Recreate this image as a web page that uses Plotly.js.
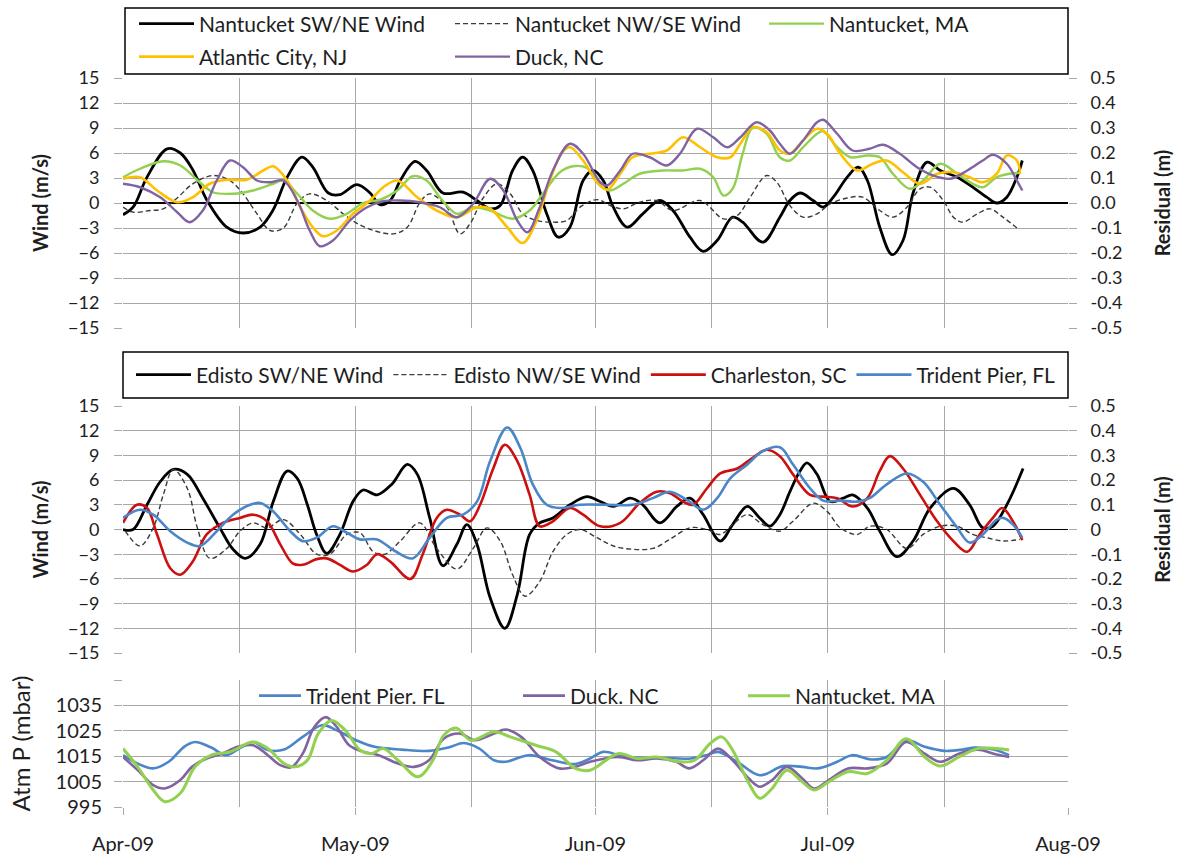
<!DOCTYPE html>
<html><head><meta charset="utf-8">
<script src="https://cdn.plot.ly/plotly-3.0.1.min.js"></script>
<style>html,body{margin:0;padding:0;background:#fff}#chart{width:1180px;height:857px}</style>
</head><body><div id="chart"></div>
<script>
// ---------- DATA (x = days after 1 Apr 2009) ----------
// Top panel: Nantucket wind (m/s) and residuals (m)
const nanSWNE_d = [0,1.3,3.1,5.7,7.4,9.0,10.8,13.4,15.5,17.7,19.4,21.2,23.1,24.5,26.5,28.0,30.2,31.9,33.2,34.5,35.8,37.7,39.2,41.3,43.9,45.7,47.4,48.7,50.3,51.6,52.9,54.7,56.2,57.7,59.4,60.7,62.0,63.3,65.1,67.1,69.3,71.0,73.2,74.9,76.7,78.7,80.0,82.6,84.8,86.1,87.4,89.1,90.4,91.7,93.5,94.9,96.1,97.7,99.3,100.7,102.0,103.8,105.5,107.7,109.7,111.5,112.8,114.1,115.4,116.1];
const nanSWNE_v = [-1.4,-0.5,3.1,6.5,6.0,4.0,0.4,-2.9,-3.6,-2.9,-0.8,3.1,5.5,4.3,1.2,1.0,2.2,1.2,-0.2,0.3,2.7,5.0,3.9,1.2,1.3,0.3,-0.7,-0.3,3.9,5.5,3.9,-1.3,-4.1,-2.9,2.7,3.9,2.7,-0.5,-2.9,-1.3,0.3,-0.9,-4.1,-5.8,-4.5,-1.7,-2.3,-4.7,-1.7,0.3,1.2,0.3,-0.5,0.7,3.1,4.3,2.7,-2.9,-6.2,-4.5,1.2,4.9,3.9,3.1,1.9,0.7,0,0.7,3.1,5.1];
const nanNWSE_d = [0,1.3,3.5,5.2,7.0,9.0,11.6,13.8,15.5,17.3,19.0,20.7,22.5,24.1,26.3,28.7,31.2,34.9,36.7,38.3,39.6,41.8,43.5,44.8,46.5,48.3,50.0,51.6,53.4,55.5,57.3,59.0,61.2,62.9,64.6,66.7,68.9,71.0,74.5,77.5,79.3,80.9,83.1,84.4,86.1,87.8,89.6,91.3,93.5,95.5,97.7,99.4,101.2,102.9,104.2,105.9,107.2,108.4,110.3,111.9,113.6,115.4];
const nanNWSE_v = [-0.5,-1.1,-0.9,-0.7,0.6,2.3,3.3,2.7,1.1,-1.3,-3.3,-3.0,0,1.1,0.3,-1.5,-2.9,-3.7,-2.9,0,1.1,-0.5,-3.7,-2.5,0.6,2.3,1.1,-1.3,-2.1,-2.3,-2.1,-0.5,0.4,-0.3,-0.7,0.1,0.3,-0.9,0.3,-1.9,-1.5,0.6,3.3,2.5,-0.3,-1.7,-1.3,-0.1,0.6,0.7,-0.9,-1.7,-0.5,1.7,1.9,0.3,-1.7,-2.3,-1.3,-0.7,-1.7,-3.0];
const nantucket_d = [0,2.2,5.2,7.4,9.9,11.6,14.2,16.8,19.4,20.7,22.5,24.5,26.7,28.9,31.0,33.2,35.4,37.4,39.2,40.9,43.1,45.2,47.4,50.3,52.5,54.2,56.4,58.1,59.9,61.6,62.9,64.6,66.7,69.7,72.3,74.5,76.2,77.5,78.7,80.0,81.3,83.1,84.8,86.1,87.8,89.6,90.4,92.2,93.9,96.1,97.7,99.4,101.6,103.3,105.5,107.7,109.7,111.0,112.8,114.5,115.8];
const nantucket_r = [0.103,0.137,0.167,0.15,0.083,0.043,0.037,0.05,0.077,0.09,0.037,-0.03,-0.063,-0.043,0,0.013,0.05,0.107,0.09,0.023,-0.043,-0.017,-0.03,-0.063,-0.03,0.037,0.123,0.147,0.14,0.07,0.05,0.077,0.117,0.13,0.13,0.137,0.103,0.03,0.057,0.197,0.3,0.277,0.183,0.17,0.223,0.277,0.287,0.223,0.183,0.19,0.183,0.117,0.057,0.09,0.157,0.117,0.077,0.063,0.103,0.117,0.12];
const atlantic_d = [0,2.2,4.4,7.0,9.0,11.2,13.4,16.0,18.1,19.4,21.2,22.9,24.5,25.8,27.6,29.7,31.9,33.6,35.4,38.0,40.5,43.1,45.7,47.4,49.6,51.6,53.4,55.1,56.7,57.7,59.4,61.2,62.5,64.2,65.8,68.0,70.2,72.3,74.5,76.7,78.4,79.7,81.3,83.1,84.8,86.1,87.8,89.6,90.9,92.6,94.8,96.8,98.6,100.7,102.9,105.1,107.2,109.3,111.0,112.8,114.1,115.4,115.8];
const atlantic_r = [0.097,0.103,0.05,0.003,0.023,0.077,0.093,0.093,0.13,0.147,0.09,-0.017,-0.097,-0.133,-0.11,-0.043,0.01,0.063,0.09,0.023,-0.03,-0.057,-0.017,-0.023,-0.097,-0.16,-0.07,0.09,0.203,0.223,0.17,0.083,0.053,0.117,0.183,0.197,0.21,0.263,0.223,0.183,0.183,0.237,0.303,0.283,0.21,0.197,0.25,0.297,0.277,0.197,0.13,0.157,0.17,0.123,0.077,0.117,0.123,0.103,0.083,0.117,0.19,0.17,0.117];
const duck_d = [0,2.2,4.8,7.0,8.6,10.3,12.1,13.8,15.5,17.3,19.0,20.7,22.5,24.1,25.4,27.1,29.3,31.5,33.6,35.8,38.3,40.9,43.1,45.2,47.4,49.1,50.9,52.2,53.8,55.5,57.7,59.4,61.6,62.5,64.2,65.8,68.0,70.2,71.9,74.1,76.2,78.0,79.7,81.8,83.5,84.8,86.1,87.8,89.6,90.4,92.2,94.2,96.4,98.1,100.3,102.5,104.6,106.8,109.0,111.0,112.3,114.1,115.4,116.1];
const duck_r = [0.077,0.063,0.023,-0.037,-0.077,-0.03,0.09,0.17,0.143,0.09,0.083,0.09,0.01,-0.11,-0.173,-0.15,-0.07,-0.017,0.007,0.01,0.003,-0.017,-0.057,-0.003,0.097,0.05,-0.07,-0.117,-0.017,0.13,0.237,0.197,0.083,0.07,0.13,0.197,0.183,0.15,0.197,0.297,0.263,0.223,0.263,0.323,0.29,0.237,0.197,0.25,0.323,0.333,0.277,0.21,0.217,0.233,0.197,0.143,0.11,0.097,0.13,0.17,0.193,0.157,0.09,0.05];

// Middle panel: Edisto wind (m/s) and residuals (m)
const ediSWNE_d = [0,1.3,3.1,4.8,6.5,8.3,10.3,12.5,14.2,15.8,17.7,19.4,21.2,22.5,23.8,25.0,26.3,28.0,29.7,31.0,32.8,34.7,36.7,38.0,39.6,41.3,43.1,44.4,45.7,47.4,49.3,50.9,52.5,53.8,55.5,57.7,59.9,61.6,63.3,65.5,67.1,69.3,71.5,73.2,74.9,77.1,78.7,80.6,82.2,83.5,84.8,86.1,87.4,88.3,89.6,91.3,93.0,94.2,96.1,97.7,99.9,102.0,104.2,107.2,109.3,111.0,112.3,114.1,116.2];
const ediSWNE_v = [0,0,3.0,5.8,7.3,6.7,3.8,0.2,-2.4,-3.5,-1.8,3.4,7.1,6.2,3.0,-0.6,-2.9,-0.6,3.4,4.8,4.2,5.5,7.9,6.7,1.4,-4.4,-1.8,0.6,-1.8,-8.3,-12.0,-7.9,-0.6,0.8,1.4,3.0,4.0,3.4,2.8,3.8,3.0,0.8,2.8,3.8,1.8,-1.4,0.6,2.8,1.4,0.4,1.8,4.6,7.1,8.1,6.7,3.4,3.8,4.2,2.6,-0.2,-3.3,-1.4,2.6,5.0,3.0,0.2,0.4,3.0,7.4];
const ediNWSE_d = [0.3,2.2,3.9,5.2,6.5,8.3,9.6,11.2,13.4,15.1,16.8,18.6,20.7,22.9,25.0,26.7,28.9,30.6,32.3,33.8,35.8,38.3,40.5,43.1,45.2,47.0,48.7,50.3,51.9,53.8,55.5,57.3,59.0,61.2,63.3,65.8,68.4,70.6,73.2,75.4,77.1,78.7,80.6,82.6,84.8,86.5,89.1,90.9,92.6,94.8,96.4,98.6,101.2,103.3,105.5,107.7,109.7,111.5,113.6,115.8];
const ediNWSE_v = [-0.2,-2.0,0.2,4.2,7.3,5.0,0.2,-3.5,-2.3,-0.2,0.8,0.2,1.2,-0.6,-3.0,-3.0,-0.6,-0.4,-2.7,-3.0,-1.4,0.8,-2.3,-4.8,-2.3,0.2,-1.4,-5.5,-8.1,-6.3,-2.7,-0.6,0,-1.0,-2.0,-2.4,-2.3,-1.2,0.2,0,-0.6,0.6,1.8,0.6,-0.2,1.0,3.2,2.2,0.2,-0.6,0.4,0,-2.3,-0.6,0.4,0.4,-0.6,-1.0,-1.4,-1.2];
const charleston_d = [0,1.8,3.1,4.4,6.1,7.4,9.0,10.8,12.9,15.1,16.8,18.6,20.3,21.9,23.2,25.0,26.3,28.0,29.7,31.5,32.8,34.5,37.1,38.7,40.5,41.8,43.5,44.8,46.1,47.8,49.3,50.9,52.5,53.8,55.5,57.7,59.4,61.6,64.2,66.7,68.9,70.6,72.3,73.6,75.4,77.1,79.3,81.3,83.1,84.8,86.5,88.7,90.4,92.2,94.2,96.1,97.7,99.0,100.7,102.9,105.1,107.2,109.0,110.6,112.3,113.5,114.9,116.1];
const charleston_r = [0.027,0.1,0.087,-0.02,-0.157,-0.183,-0.13,-0.02,0.027,0.047,0.06,0.033,-0.06,-0.137,-0.143,-0.12,-0.117,-0.143,-0.17,-0.143,-0.1,-0.13,-0.2,-0.1,0.047,0.08,0.06,0.033,0.1,0.247,0.343,0.277,0.14,0.013,0.033,0.087,0.06,0.013,0.027,0.107,0.153,0.147,0.113,0.1,0.167,0.227,0.247,0.29,0.323,0.297,0.223,0.14,0.133,0.127,0.093,0.127,0.237,0.297,0.247,0.14,0.033,-0.047,-0.09,-0.02,0.047,0.087,0.033,-0.043];
const trident_d = [0,2.2,3.9,6.1,8.3,9.9,12.1,14.2,16.4,17.7,19.4,21.6,23.2,25.0,27.1,28.9,30.6,32.8,35.1,37.4,39.6,41.8,43.9,45.7,47.4,49.6,51.3,52.9,54.7,56.4,59.0,62.5,65.8,68.4,70.6,72.8,74.9,76.7,78.4,80.6,82.6,84.8,86.5,88.7,90.4,92.6,94.8,96.4,98.6,101.2,103.3,105.5,107.7,109.3,111.0,112.8,113.6,114.9,116.1];
const trident_r = [0.047,0.08,0.06,-0.007,-0.053,-0.067,-0.007,0.06,0.1,0.107,0.073,-0.007,-0.047,-0.033,0.013,-0.013,-0.04,-0.04,-0.087,-0.117,-0.033,0.047,0.06,0.113,0.277,0.413,0.33,0.183,0.1,0.087,0.1,0.1,0.1,0.127,0.153,0.12,0.08,0.127,0.207,0.263,0.317,0.333,0.263,0.167,0.117,0.117,0.113,0.127,0.183,0.227,0.193,0.1,0.007,-0.053,-0.02,0.04,0.047,0.02,-0.033];

// Bottom panel: atmospheric pressure (mbar)
const pTrident_d = [0,1.9,3.9,5.9,7.9,9.3,11.4,13.3,15.2,16.8,18.7,20.8,23.2,25.7,27.6,30.1,32.5,36.0,39.5,42.0,44.0,46.0,47.9,49.4,52.4,55.4,58.4,60.3,62.0,64.9,68.9,73.3,75.3,76.8,79.3,82.2,85.2,87.7,89.7,92.2,94.1,96.6,98.6,101.1,103.5,106.0,108.4,110.0,112.4,114.4];
const pTrident_v = [1015.4,1012.1,1010.2,1012.8,1018.7,1020.6,1018.4,1015.4,1018.4,1020.6,1017.4,1017.6,1022.6,1027.2,1025.2,1021.3,1018.7,1017.6,1017.1,1018.4,1020.2,1018.0,1013.4,1012.8,1015.4,1013.4,1011.9,1014.1,1016.7,1014.7,1014.5,1014.1,1015.4,1016.7,1012.8,1007.5,1011.1,1010.8,1010.2,1012.8,1015.4,1013.7,1014.7,1021.3,1018.7,1017.1,1017.6,1018.4,1017.6,1015.4];
const pDuck_d = [0,1.9,3.9,5.4,7.4,8.9,10.8,12.8,14.8,16.8,18.7,20.3,21.7,23.2,24.7,26.2,27.6,29.2,31.1,33.0,35.5,37.6,39.5,41.4,43.5,45.4,47.9,49.4,51.4,53.8,56.3,58.4,60.3,63.9,66.4,68.9,71.4,73.1,74.9,76.8,78.7,80.8,82.2,83.8,85.7,87.7,89.2,91.1,93.6,96.1,98.6,101.1,103.5,105.5,107.9,110.4,112.4,114.4];
const pDuck_v = [1014.7,1009.5,1003.6,1002.3,1005.6,1010.8,1014.1,1016.0,1018.7,1019.3,1015.4,1011.5,1010.6,1016.0,1026.5,1030.4,1026.5,1019.3,1016.7,1015.4,1012.1,1010.8,1013.4,1021.9,1023.9,1021.3,1023.9,1025.5,1022.6,1014.7,1010.2,1010.8,1012.8,1014.7,1013.4,1014.1,1012.8,1010.2,1013.4,1018.0,1013.4,1006.2,1003.0,1005.6,1010.8,1006.2,1002.3,1005.6,1010.2,1010.2,1012.1,1020.6,1016.0,1012.8,1016.0,1017.6,1016.0,1014.7];
const pNantucket_d = [0,1.9,3.9,5.4,7.4,9.3,11.4,13.8,16.8,18.7,20.8,22.2,23.8,25.2,26.9,28.7,30.6,32.1,33.6,35.5,38.1,40.0,41.4,43.0,44.9,47.9,50.0,53.3,55.9,58.4,60.3,63.9,66.4,68.9,71.9,73.8,75.8,77.3,78.7,80.8,82.2,83.8,85.7,87.7,89.2,91.1,93.6,96.1,98.6,101.1,103.5,105.5,107.9,110.4,112.8,114.4];
const pNantucket_v = [1018.0,1010.8,1001.7,997.1,1000.4,1010.8,1015.4,1016.7,1020.6,1018.0,1012.1,1010.8,1013.4,1023.9,1029.1,1025.2,1017.4,1016.0,1018.0,1013.4,1006.9,1013.4,1023.2,1026.1,1021.3,1024.6,1022.6,1019.3,1016.7,1010.2,1009.5,1016.0,1014.1,1014.7,1012.8,1013.4,1020.0,1022.6,1017.4,1004.3,998.4,1002.3,1009.5,1004.9,1001.7,1004.9,1008.9,1008.2,1013.4,1021.9,1014.7,1011.1,1014.7,1018.0,1018.0,1017.4];

// Axis ticks
const monthTicks = ['2009-04-01','2009-05-01','2009-06-01','2009-07-01','2009-08-01'];
const monthLabels = ['Apr-09','May-09','Jun-09','Jul-09','Aug-09'];
const midTicks = ['2009-04-16','2009-05-16','2009-06-16','2009-07-16'];
const windTicks = [-15,-12,-9,-6,-3,0,3,6,9,12,15];
const residTicks = [-0.5,-0.4,-0.3,-0.2,-0.1,0,0.1,0.2,0.3,0.4,0.5];
const residLabelsTop = ['-0.5','-0.4','-0.3','-0.2','-0.1','0.0','0.1','0.2','0.3','0.4','0.5'];
const residLabelsMid = ['-0.5','-0.4','-0.3','-0.2','-0.1','0','0.1','0.2','0.3','0.4','0.5'];
const presTicks = [995,1005,1015,1025,1035,1045];
const presLabels = ['995','1005','1015','1025','1035',''];

// ---------- BUILD ----------
const START = Date.UTC(2009,3,1);
const toDates = days => days.map(d => new Date(START + d*86400000).toISOString().slice(0,19));
const allGrid = monthTicks.concat(midTicks).sort();

const GRID = '#a8a8a8';
const FONT = 'Lato, "Open Sans", sans-serif';
const TXT = '#1e1e1e';
const BLUE='#4a86c8', PURPLE='#8064a2', GREEN='#92d050', YELLOW='#ffc000', RED='#cc1010';
const dashLine = {color:'#3a3a3a', width:1.4, dash:'5px,3px'};

function tr(d, v, name, xa, ya, line, legend){
  return {type:'scatter', mode:'lines', x:toDates(d), y:v, name:name, xaxis:xa, yaxis:ya,
          line:Object.assign({shape:'spline', smoothing:1}, line), legend:legend, hoverinfo:'skip'};
}

const data = [
  tr(nanSWNE_d, nanSWNE_v, 'Nantucket SW/NE Wind', 'x', 'y', {color:'#000', width:2.8}, 'legend'),
  tr(nanNWSE_d, nanNWSE_v, 'Nantucket NW/SE Wind', 'x', 'y', dashLine, 'legend2'),
  tr(nantucket_d, nantucket_r, 'Nantucket, MA', 'x', 'y2', {color:GREEN, width:2.4}, 'legend3'),
  tr(atlantic_d, atlantic_r, 'Atlantic City, NJ', 'x', 'y2', {color:YELLOW, width:2.6}, 'legend4'),
  tr(duck_d, duck_r, 'Duck, NC', 'x', 'y2', {color:PURPLE, width:2.4}, 'legend5'),

  tr(ediSWNE_d, ediSWNE_v, 'Edisto SW/NE Wind', 'x2', 'y3', {color:'#000', width:2.8}, 'legend6'),
  tr(ediNWSE_d, ediNWSE_v, 'Edisto NW/SE Wind', 'x2', 'y3', dashLine, 'legend6'),
  tr(charleston_d, charleston_r, 'Charleston, SC', 'x2', 'y4', {color:RED, width:2.6}, 'legend6'),
  tr(trident_d, trident_r, 'Trident Pier, FL', 'x2', 'y4', {color:BLUE, width:2.6}, 'legend6'),

  tr(pTrident_d, pTrident_v, 'Trident Pier. FL', 'x3', 'y5', {color:BLUE, width:2.6}, 'legend7'),
  tr(pDuck_d, pDuck_v, 'Duck. NC', 'x3', 'y5', {color:PURPLE, width:2.6}, 'legend8'),
  tr(pNantucket_d, pNantucket_v, 'Nantucket. MA', 'x3', 'y5', {color:GREEN, width:3}, 'legend9')
];

const H = 729, W = 945, TOP = 78; // plot frame: columns 123..1068, rows 78..807
const py = p => (807 - p)/H;      // pixel row -> paper fraction
const px = p => (p - 123)/W;      // pixel column -> paper fraction

const tickFont = {family:FONT, size:18, color:TXT};
const titleFont = {family:FONT, size:20, color:TXT, weight:'bold'};

function xAx(anchor, labels){
  const ax = {type:'date', range:['2009-04-01','2009-08-01'], anchor:anchor,
    tickmode:'array', tickvals: labels ? monthTicks : allGrid,
    showgrid:true, gridcolor:GRID, gridwidth:1, zeroline:false, showline:false,
    showticklabels:!!labels, fixedrange:true, tickfont:{family:FONT, size:20, color:TXT}};
  if(labels){
    ax.ticktext = monthLabels; ax.ticks='outside'; ax.ticklen=7; ax.tickcolor=GRID; ax.tickwidth=1;
    ax.ticklabelstandoff = 12;
    ax.minor = {tickmode:'array', tickvals:midTicks, showgrid:true, gridcolor:GRID, gridwidth:1, ticks:''};
  }
  return ax;
}
function windAx(anchor, dom){
  return {domain:dom, anchor:anchor, range:[-15,15], tickmode:'array', tickvals:windTicks,
    showgrid:true, gridcolor:GRID, gridwidth:1, zeroline:true, zerolinecolor:'#000', zerolinewidth:1.6,
    ticks:'outside', ticklen:8, tickcolor:GRID, tickwidth:1, ticklabelstandoff:11,
    tickfont:tickFont, fixedrange:true,
    title:{text:'Wind (m/s)', font:titleFont, standoff:14}};
}
function residAx(anchor, over, labels){
  return {anchor:anchor, overlaying:over, side:'right', range:[-0.5,0.5], tickmode:'array',
    tickvals:residTicks, ticktext:labels, showgrid:false, zeroline:false,
    ticks:'outside', ticklen:8, tickcolor:GRID, tickwidth:1, ticklabelstandoff:10,
    tickfont:tickFont, fixedrange:true,
    title:{text:'Residual (m)', font:titleFont, standoff:34}};
}

const legBase = {orientation:'h', xref:'paper', yref:'paper', xanchor:'left', yanchor:'middle',
  bgcolor:'rgba(0,0,0,0)', borderwidth:0, font:{family:FONT, size:21, color:TXT},
  itemwidth:55, itemclick:false, itemdoubleclick:false};
// legend placed by pixel position (left edge, row centre)
const legAt = (col, row, extra) => Object.assign({}, legBase, {x:px(col), y:py(row)}, extra || {});

const layout = {
  width:1180, height:857,
  margin:{l:123, r:112, t:TOP, b:50, autoexpand:false},
  paper_bgcolor:'#fff', plot_bgcolor:'#fff',
  font:{family:FONT, color:TXT},
  showlegend:true,
  xaxis: xAx('y', false),
  xaxis2: xAx('y3', false),
  xaxis3: xAx('y5', true),
  yaxis: windAx('x', [py(328), 1]),
  yaxis2: residAx('x', 'y', residLabelsTop),
  yaxis3: windAx('x2', [py(653), py(406)]),
  yaxis4: residAx('x2', 'y3', residLabelsMid),
  yaxis5: {domain:[0, py(680)], anchor:'x3', range:[995,1045], tickmode:'array', tickvals:presTicks,
    ticktext:presLabels, showgrid:true, gridcolor:GRID, gridwidth:1, zeroline:false,
    ticks:'outside', ticklen:8, tickcolor:GRID, tickwidth:1, ticklabelstandoff:8,
    tickfont:{family:FONT, size:20, color:TXT}, fixedrange:true,
    title:{text:'Atm P (mbar)', font:{family:FONT, size:24, color:TXT}, standoff:18}},
  legend:  legAt(134, 24),
  legend2: legAt(450, 24),
  legend3: legAt(764, 24),
  legend4: legAt(134, 57),
  legend5: legAt(450, 57),
  legend6: legAt(131, 375),
  legend7: legAt(254, 696, {itemwidth:42}),
  legend8: legAt(518, 696, {itemwidth:42}),
  legend9: legAt(743, 696, {itemwidth:42}),
  shapes: [
    {type:'rect', xref:'paper', yref:'paper', x0:px(125), x1:1, y0:py(74), y1:py(8), line:{color:'#000', width:1.5}},
    {type:'rect', xref:'paper', yref:'paper', x0:0, x1:1, y0:py(398), y1:py(352), line:{color:'#000', width:1.5}}
  ]
};

Plotly.newPlot('chart', data, layout, {displayModeBar:false, staticPlot:true});
</script>
</body></html>
